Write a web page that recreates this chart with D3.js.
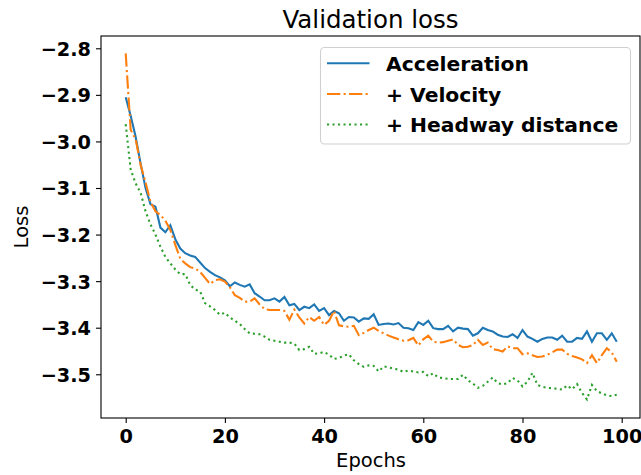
<!DOCTYPE html>
<html>
<head>
<meta charset="utf-8">
<script src="https://cdn.jsdelivr.net/npm/d3@7"></script>
<style>
  body { margin: 0; background: #fff; }
  svg { display: block; font-family: "DejaVu Sans", sans-serif; }
</style>
</head>
<body>
<script>
// series, one value per epoch (0..99)
var acceleration = [
  -2.905, -2.945, -2.990, -3.047, -3.100, -3.135, -3.140, -3.185, -3.195, -3.180,
  -3.210, -3.230, -3.240, -3.245, -3.248, -3.260, -3.272, -3.280, -3.287, -3.292,
  -3.298, -3.311, -3.303, -3.308, -3.312, -3.307, -3.326, -3.333, -3.341, -3.341,
  -3.337, -3.344, -3.334, -3.352, -3.349, -3.362, -3.355, -3.358, -3.350, -3.364,
  -3.358, -3.373, -3.364, -3.369, -3.385, -3.377, -3.378, -3.387, -3.380, -3.381,
  -3.371, -3.394, -3.392, -3.391, -3.393, -3.390, -3.400, -3.401, -3.405, -3.388,
  -3.394, -3.385, -3.401, -3.403, -3.403, -3.396, -3.408, -3.400, -3.402, -3.403,
  -3.417, -3.412, -3.400, -3.405, -3.408, -3.415, -3.419, -3.420, -3.414, -3.422,
  -3.405, -3.419, -3.424, -3.430, -3.424, -3.421, -3.421, -3.426, -3.417, -3.430,
  -3.430, -3.422, -3.424, -3.408, -3.430, -3.412, -3.412, -3.426, -3.412, -3.430
];
var velocity = [
  -2.811, -2.975, -2.995, -3.050, -3.088, -3.130, -3.150, -3.158, -3.170, -3.190,
  -3.222, -3.252, -3.262, -3.270, -3.273, -3.280, -3.293, -3.306, -3.298, -3.296,
  -3.301, -3.313, -3.330, -3.336, -3.344, -3.344, -3.337, -3.350, -3.360, -3.362,
  -3.362, -3.362, -3.364, -3.383, -3.361, -3.378, -3.391, -3.377, -3.385, -3.377,
  -3.394, -3.385, -3.364, -3.395, -3.397, -3.398, -3.396, -3.416, -3.411, -3.405,
  -3.400, -3.407, -3.412, -3.417, -3.421, -3.425, -3.428, -3.427, -3.422, -3.438,
  -3.425, -3.417, -3.430, -3.432, -3.431, -3.428, -3.425, -3.437, -3.442, -3.441,
  -3.437, -3.426, -3.437, -3.432, -3.446, -3.448, -3.451, -3.440, -3.444, -3.444,
  -3.457, -3.455, -3.459, -3.463, -3.462, -3.458, -3.453, -3.447, -3.447, -3.456,
  -3.461, -3.464, -3.468, -3.476, -3.459, -3.476, -3.459, -3.444, -3.453, -3.473
];
var headway = [
  -2.963, -3.060, -3.090, -3.110, -3.150, -3.178, -3.200, -3.226, -3.248, -3.262,
  -3.275, -3.285, -3.285, -3.308, -3.318, -3.322, -3.347, -3.354, -3.362, -3.372,
  -3.368, -3.378, -3.385, -3.392, -3.403, -3.412, -3.413, -3.414, -3.419, -3.426,
  -3.428, -3.430, -3.432, -3.432, -3.434, -3.448, -3.446, -3.441, -3.456, -3.455,
  -3.452, -3.458, -3.467, -3.465, -3.460, -3.457, -3.470, -3.478, -3.484, -3.481,
  -3.482, -3.494, -3.483, -3.485, -3.488, -3.490, -3.495, -3.492, -3.494, -3.496,
  -3.495, -3.504, -3.498, -3.507, -3.508, -3.510, -3.510, -3.510, -3.501, -3.513,
  -3.520, -3.529, -3.525, -3.516, -3.507, -3.519, -3.522, -3.519, -3.508, -3.513,
  -3.526, -3.516, -3.497, -3.523, -3.527, -3.529, -3.530, -3.531, -3.533, -3.524,
  -3.532, -3.521, -3.540, -3.554, -3.523, -3.536, -3.541, -3.545, -3.547, -3.544
];
var seriesNames = ["Acceleration", "+ Velocity", "+ Headway distance"];
var xTicks = [0, 20, 40, 60, 80, 100];
var yTicks = [-3.5, -3.4, -3.3, -3.2, -3.1, -3.0, -2.9, -2.8];

var svgWidth = 641, svgHeight = 475;
var margin = { left: 101, right: 640, top: 36, bottom: 418 };

var svg = d3.select("body").append("svg")
  .attr("width", svgWidth)
  .attr("height", svgHeight);

var x = d3.scaleLinear().domain([-4.98, 103.69]).range([margin.left, margin.right]);
var y = d3.scaleLinear().domain([-3.5939, -2.7736]).range([margin.bottom, margin.top]);

// axes
var xAxis = svg.append("g")
  .attr("transform", `translate(0,${margin.bottom})`)
  .call(d3.axisBottom(x).tickValues(xTicks).tickSize(5).tickPadding(6).tickFormat(d3.format("d")));
var yAxis = svg.append("g")
  .attr("transform", `translate(${margin.left},0)`)
  .call(d3.axisLeft(y).tickValues(yTicks).tickSize(5).tickPadding(5).tickFormat(d3.format(".1f")));

[xAxis, yAxis].forEach(function(g) {
  g.select(".domain").remove();
  g.selectAll(".tick line").attr("stroke", "#000").attr("stroke-width", 1.1);
  g.selectAll(".tick text")
    .attr("fill", "#000")
    .style("font-family", "DejaVu Sans")
    .style("font-weight", "bold")
    .style("font-size", "19.3px");
});
yAxis.selectAll(".tick text").attr("dy", "0.36em");

// lines (matplotlib-like dash patterns at 1.5pt)
var line = d3.line().x((d, i) => x(i)).y(d => y(d));
var styles = [
  { data: acceleration, color: "#1f77b4", dash: null },
  { data: velocity, color: "#ff7f0e", dash: "13.3,3.3,2.1,3.3" },
  { data: headway, color: "#2ca02c", dash: "2.1,3.4" }
];
styles.forEach(function(s) {
  svg.append("path")
    .datum(s.data)
    .attr("d", line)
    .attr("fill", "none")
    .attr("stroke", s.color)
    .attr("stroke-width", 2.1)
    .attr("stroke-dasharray", s.dash);
});

// frame
svg.append("rect")
  .attr("x", margin.left).attr("y", margin.top)
  .attr("width", margin.right - margin.left).attr("height", margin.bottom - margin.top)
  .attr("fill", "none").attr("stroke", "#000").attr("stroke-width", 1.1);

// title and labels
svg.append("text")
  .attr("x", (margin.left + margin.right) / 2).attr("y", 28.3)
  .attr("text-anchor", "middle")
  .style("font-size", "24.5px")
  .text("Validation loss");

svg.append("text")
  .attr("x", 371).attr("y", 467)
  .attr("text-anchor", "middle")
  .style("font-size", "19.5px")
  .text("Epochs");

svg.append("text")
  .attr("transform", `translate(27.5,${(margin.top + margin.bottom) / 2}) rotate(-90)`)
  .attr("text-anchor", "middle")
  .style("font-size", "19.5px")
  .text("Loss");

// legend
var legend = svg.append("g");
legend.append("rect")
  .attr("x", 320.5).attr("y", 47.5)
  .attr("width", 310).attr("height", 96.5)
  .attr("rx", 4)
  .attr("fill", "#fff").attr("fill-opacity", 0.8)
  .attr("stroke", "#d0d0d0").attr("stroke-width", 1.1);

var rowY = [63.3, 94, 124.5];
styles.forEach(function(s, i) {
  legend.append("line")
    .attr("x1", 327).attr("x2", 369.5)
    .attr("y1", rowY[i]).attr("y2", rowY[i])
    .attr("stroke", s.color)
    .attr("stroke-width", 2.1)
    .attr("stroke-dasharray", s.dash);
  legend.append("text")
    .attr("x", 386).attr("y", rowY[i] + 7.5)
    .style("font-weight", "bold")
    .style("font-size", "20.3px")
    .text(seriesNames[i]);
});
</script>
</body>
</html>
